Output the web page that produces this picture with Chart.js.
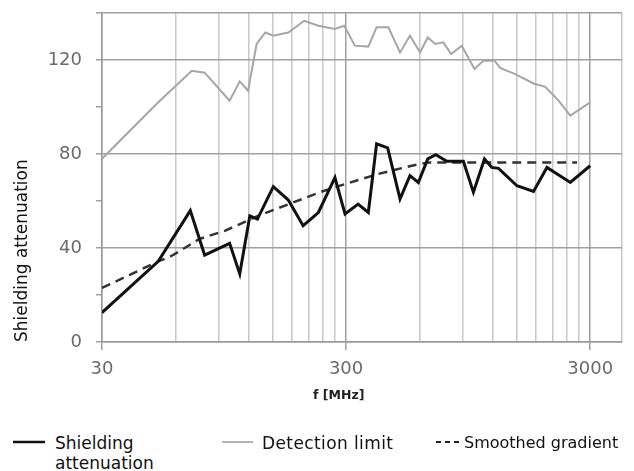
<!DOCTYPE html>
<html>
<head>
<meta charset="utf-8">
<script src="https://cdn.jsdelivr.net/npm/chart.js@4/dist/chart.umd.min.js"></script>
<style>
body { margin: 0; background: #fff; font-family: "DejaVu Sans", sans-serif; }
#wrap { position: relative; width: 634px; height: 471px; }
#grafico { position: absolute; left: 0; top: 0; }
.leyenda { position: absolute; font-size: 17px; line-height: 20px; color: #111; }
.muestra { position: absolute; }
#tituloX { position: absolute; left: 313px; top: 387px; font-size: 12.5px; font-weight: bold; color: #222; }
</style>
</head>
<body>
<div id="wrap">
  <canvas id="grafico" width="634" height="420"></canvas>
  <div id="tituloX">f [MHz]</div>
  <svg class="muestra" style="left:13px;top:436px" width="34" height="12"><line x1="0" y1="6" x2="32" y2="6" stroke="#111" stroke-width="2.5"/></svg>
  <div class="leyenda" style="left:55px;top:433px">Shielding<br>attenuation</div>
  <svg class="muestra" style="left:222px;top:436px" width="34" height="12"><line x1="0" y1="6" x2="31" y2="6" stroke="#999" stroke-width="1.5"/></svg>
  <div class="leyenda" style="left:262px;top:433px;letter-spacing:0.4px">Detection limit</div>
  <svg class="muestra" style="left:436px;top:436px" width="28" height="12"><line x1="0" y1="6" x2="25" y2="6" stroke="#222" stroke-width="2" stroke-dasharray="5 4"/></svg>
  <div class="leyenda" style="left:464px;top:433px;font-size:16px">Smoothed gradient</div>
</div>
<script>
// datos (f en MHz)
var attenFreq = [30, 51, 69, 79, 100, 110, 121, 130, 151, 174, 200, 231, 270, 297, 336, 370, 400, 444, 499, 548, 593, 648, 699, 776, 907, 997, 1107, 1186, 1264, 1503, 1758, 1995, 2487, 3000];
var attenValues = [12.5, 34.3, 55.9, 37, 42, 29, 53.7, 52.3, 66.1, 60.4, 49.5, 55.1, 70, 54.5, 58.7, 55.1, 84.3, 82.6, 60.9, 70.8, 67.9, 77.9, 79.7, 76.9, 76.9, 63.7, 77.9, 74.3, 73.9, 66.5, 64.1, 74.3, 67.9, 75];

var limitFreq = [30, 51, 70, 79, 100, 110, 119, 129, 140, 151, 174, 202, 231, 270, 295, 326, 370, 400, 447, 499, 548, 603, 648, 695, 751, 808, 893, 1007, 1096, 1216, 1284, 1478, 1758, 1963, 2227, 2487, 3000];
var limitValues = [78, 102, 115.4, 114.6, 102.7, 110.9, 106.9, 126.8, 131.7, 130.3, 131.7, 136.7, 134.6, 133.2, 134.6, 126.1, 125.7, 133.9, 133.9, 123.2, 130.3, 123.2, 129.6, 126.8, 127.5, 122.5, 126.1, 116.2, 119.7, 119.7, 116.6, 114, 110, 108.6, 102.7, 96.3, 102];

var smoothFreq = [30, 51, 58, 75, 96, 131, 234, 297, 406, 557, 650, 2650];
var smoothValues = [23, 34.3, 36.7, 43.8, 47.4, 53.7, 63.7, 67.2, 71.5, 75, 76.4, 76.4];

var xTickLabels = [30, 300, 3000];
var yTickLabels = [0, 40, 80, 120];

var fuente = "'DejaVu Sans', sans-serif";

function pares(xs, ys) {
    var out = [];
    for (var i = 0; i < xs.length; i++) {
        out.push({ x: xs[i], y: ys[i] });
    }
    return out;
}

// lineas de la grilla vertical: 30*k por decada
function lineasX(max) {
    var v = [];
    [30, 300].forEach(function (base) {
        for (var k = 1; k <= 9; k++) v.push(base * k);
    });
    v.push(3000, max);
    return v;
}

var xMax = 4050;

var ctx = document.getElementById('grafico').getContext('2d');
var chart = new Chart(ctx, {
    type: 'line',
    data: {
        datasets: [{
            label: 'Shielding attenuation',
            data: pares(attenFreq, attenValues),
            borderColor: '#111',
            borderWidth: 3,
            pointRadius: 0,
            order: 1
        }, {
            label: 'Detection limit',
            data: pares(limitFreq, limitValues),
            borderColor: '#a6a6a6',
            borderWidth: 2,
            pointRadius: 0,
            order: 3
        }, {
            label: 'Smoothed gradient',
            data: pares(smoothFreq, smoothValues),
            borderColor: '#333',
            borderWidth: 2.5,
            borderDash: [9, 6],
            pointRadius: 0,
            order: 2
        }]
    },
    options: {
        responsive: false,
        devicePixelRatio: 1,
        animation: false,
        layout: { padding: { top: 13, right: 12, left: 0, bottom: 0 } },
        plugins: {
            legend: { display: false },
            tooltip: { enabled: false }
        },
        scales: {
            x: {
                type: 'logarithmic',
                min: 30,
                max: xMax,
                afterBuildTicks: function (s) {
                    s.ticks = lineasX(xMax).map(function (v) { return { value: v }; });
                },
                afterFit: function (s) { s.height = 78; },
                ticks: {
                    autoSkip: false,
                    maxRotation: 0,
                    padding: 9,
                    color: '#6a6a6a',
                    font: { family: fuente, size: 18 },
                    callback: function (v) { return xTickLabels.indexOf(v) >= 0 ? String(v) : ''; }
                },
                grid: {
                    lineWidth: 1.5,
                    tickLength: 8,
                    color: function (c) {
                        return c.tick && xTickLabels.indexOf(c.tick.value) >= 0 ? '#a0a0a0' : '#c8c8c8';
                    },
                    tickColor: function (c) {
                        return c.tick && xTickLabels.indexOf(c.tick.value) >= 0 ? '#a0a0a0' : 'rgba(0,0,0,0)';
                    }
                },
                border: { color: '#999', width: 1.5 }
            },
            y: {
                min: 0,
                max: 140,
                afterFit: function (s) {
                    s.width = 102;
                    s.paddingTop = 0;
                    s.paddingBottom = 0;
                },
                ticks: {
                    stepSize: 10,
                    padding: 14,
                    color: '#6a6a6a',
                    font: { family: fuente, size: 18 },
                    callback: function (v) { return yTickLabels.indexOf(v) >= 0 ? String(v) : ''; }
                },
                grid: {
                    lineWidth: 1.5,
                    tickLength: 6,
                    tickColor: '#a0a0a0',
                    color: function (c) {
                        if (!c.tick) return 'rgba(0,0,0,0)';
                        return (c.tick.value % 40 === 0 || c.tick.value === 140) ? '#a0a0a0' : 'rgba(0,0,0,0)';
                    }
                },
                border: { color: '#999', width: 1.5 },
                title: {
                    display: true,
                    text: 'Shielding attenuation',
                    align: 'start',
                    color: '#111',
                    font: { family: fuente, size: 17 },
                    padding: { top: 12, bottom: 0 }
                }
            }
        }
    }
});
</script>
</body>
</html>
